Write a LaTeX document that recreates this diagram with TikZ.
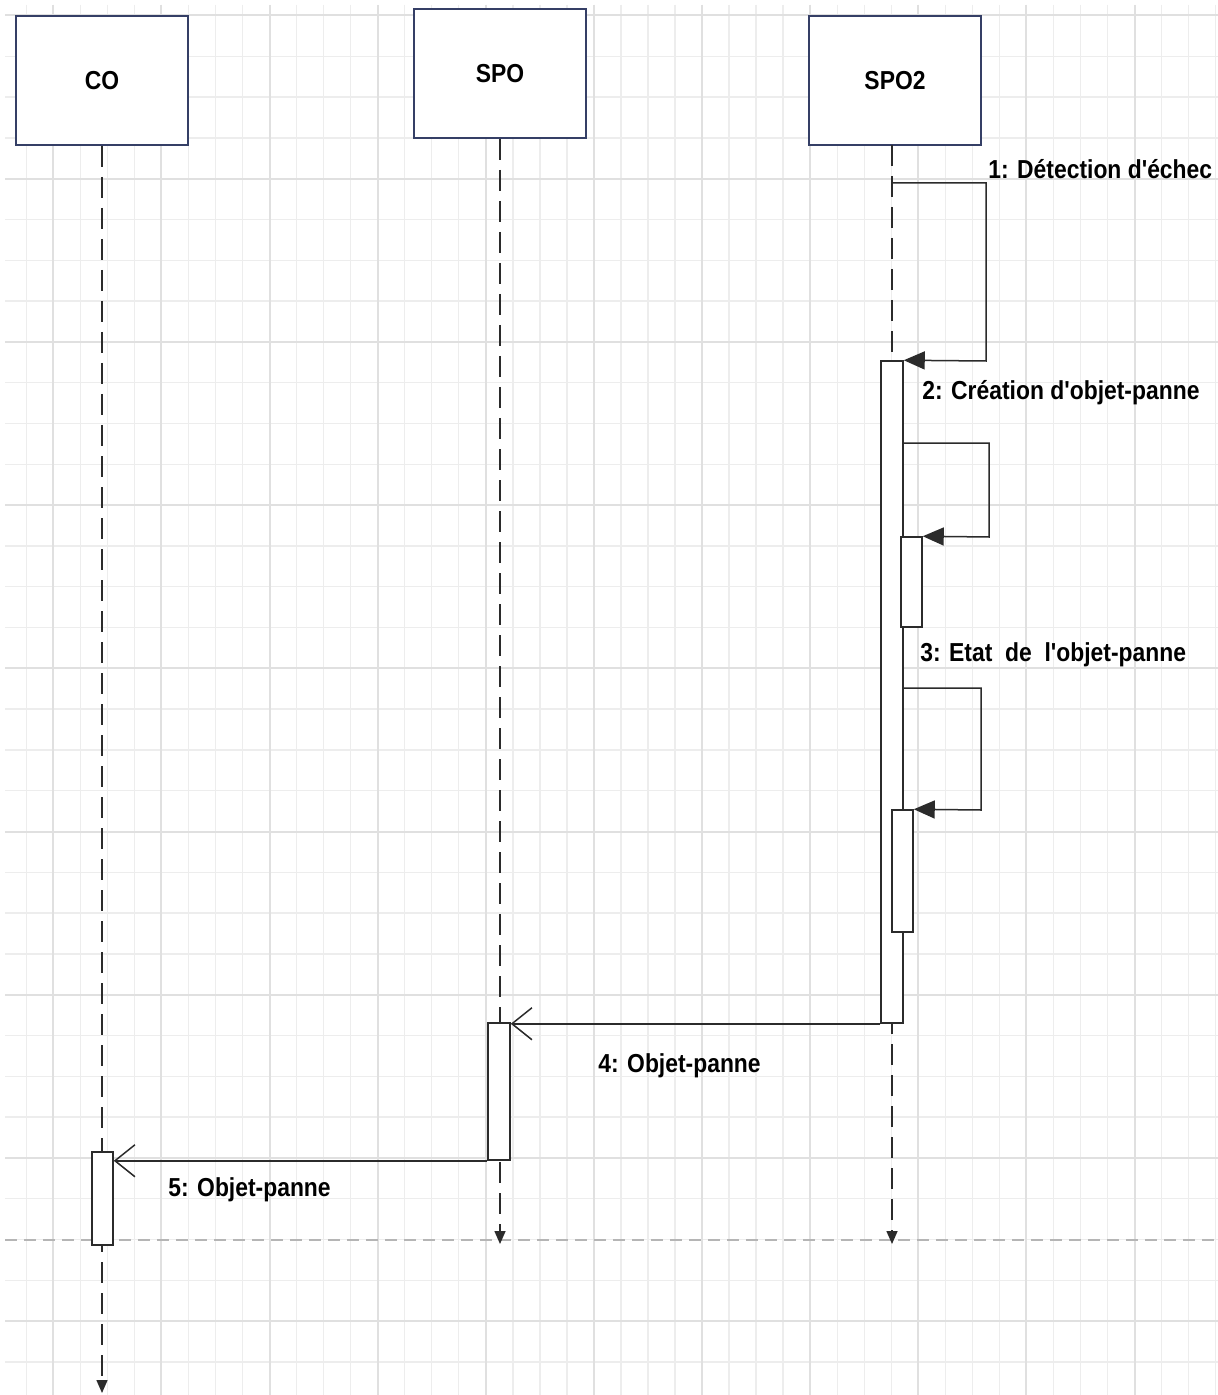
\documentclass[tikz,border=0pt]{standalone}
\usepackage{fontspec}
\newfontfamily\lblfont{Liberation Sans}[FakeStretch=0.88]
\usetikzlibrary{arrows.meta}
\definecolor{gridminor}{HTML}{EDEDED}
\definecolor{gridmajor}{HTML}{E0E0E0}
\definecolor{boxborder}{HTML}{353F66}
\definecolor{ink}{HTML}{2B2B2B}
\definecolor{sepgray}{HTML}{B5B5B5}
\begin{document}
\begin{tikzpicture}[x=0.5pt,y=-0.5pt,
  every node/.style={font=\lblfont\fontsize{13pt}{15pt}\selectfont\bfseries},
  obj/.style={draw=boxborder, line width=1pt, fill=white, minimum width=86pt, minimum height=64.5pt, inner sep=0pt},
  act/.style={draw=ink, line width=0.75pt, fill=white, inner sep=0pt},
  life/.style={draw=ink, line width=0.75pt, dash pattern=on 10.5pt off 5pt, -{Triangle[length=6.5pt,width=5.5pt]}},
  selfmsg/.style={draw=ink, line width=0.75pt, -{Triangle[length=10.5pt,width=9pt]}},
  msg/.style={draw=ink, line width=0.75pt, -{Straight Barb[length=10pt,width=16pt]}},
  lbl/.style={anchor=base west, inner sep=0pt, text=black},
  gmin/.style={draw=gridminor, line width=0.7pt},
  gmaj/.style={draw=gridmajor, line width=1pt},
]
\useasboundingbox[fill=white] (0,0) rectangle (1218,1395);
% grid
\foreach \i in {0,...,44} \draw[gmin] ({26.3+27.03*\i},5) -- ({26.3+27.03*\i},1395);
\foreach \i in {0,...,33} \draw[gmin] (5,{15.5+40.8*\i}) -- (1218,{15.5+40.8*\i});
\foreach \i in {0,...,10} \draw[gmaj] ({53.3+108.12*\i},5) -- ({53.3+108.12*\i},1395);
\foreach \i in {0,...,8} \draw[gmaj] (5,{15.5+163.2*\i}) -- (1218,{15.5+163.2*\i});
\draw[draw=sepgray, line width=0.6pt, dash pattern=on 6pt off 3.5pt] (5,1240) -- (1218,1240);

% objects
\node[obj] (CO) at (102,80.5) {CO};
\node[obj] (SPO) at (500,73.5) {SPO};
\node[obj] (SPOtwo) at (895,80.5) {SPO2};

% lifelines
\coordinate (COend) at (102,1393);
\coordinate (SPOend) at (500,1244);
\coordinate (SPOtwotop) at (892,145);
\coordinate (SPOtwoend) at (892,1244);
\draw[life] (CO.south) -- (COend);
\draw[life] (SPO.south) -- (SPOend);
\draw[life] (SPOtwotop) -- (SPOtwoend);

% activations
\node[act, minimum width=11pt, minimum height=331pt] (A1) at (892,692) {};
\node[act, minimum width=10.5pt, minimum height=45pt] (A2) at (911.5,582) {};
\node[act, minimum width=10.5pt, minimum height=61pt] (A3) at (902.5,871) {};
\node[act, minimum width=11pt, minimum height=68.5pt] (A4) at (499,1091.5) {};
\node[act, minimum width=10.5pt, minimum height=46.5pt] (A5) at (102.5,1198.5) {};

% message 1
\coordinate (m1s) at (892,183);
\coordinate (m1c) at (986,361);
\draw[selfmsg] (m1s) -| (m1c) -- (A1.north east);
% message 2
\coordinate (m2s) at (903,443);
\coordinate (m2c) at (989,537);
\draw[selfmsg] (m2s) -| (m2c) -- (A2.north east);
% message 3
\coordinate (m3s) at (903,688);
\coordinate (m3c) at (981,810);
\draw[selfmsg] (m3s) -| (m3c) -- (A3.north east);
% message 4
\draw[msg] (A1.south west) -- (A1.south west -| A4.east);
% message 5
\draw[msg] (A4.south west) -- (A4.south west -| A5.east);

% labels
\node[lbl] (L1) at (988,179) {1: Détection d'échec};
\node[lbl] (L2) at (922,400) {2: Création d'objet-panne};
\node[lbl] (L3) at (920,661.5) {3: Etat~~de~~l'objet-panne};
\node[lbl] (L4) at (598,1072) {4: Objet-panne};
\node[lbl] (L5) at (168,1196.5) {5: Objet-panne};
\end{tikzpicture}
\end{document}
